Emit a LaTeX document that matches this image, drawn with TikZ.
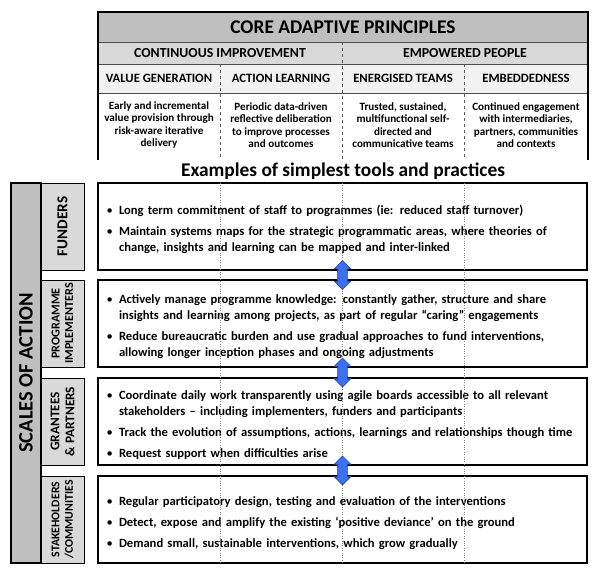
\documentclass[tikz,border=0pt]{standalone}
\usepackage{fontspec}
\setmainfont{Carlito}
\usepackage{enumitem}
\usetikzlibrary{shapes.arrows,calc}
\definecolor{headgray}{HTML}{BFBFBF}
\definecolor{midgray}{HTML}{D9D9D9}
\definecolor{lightgray}{HTML}{F2F2F2}
\definecolor{arrowblue}{HTML}{3D6FF2}
\definecolor{arrowedge}{HTML}{1F3FA8}
\newcommand{\bodysize}{\fontsize{12.6}{16}\selectfont}
\begin{document}
\begin{tikzpicture}[x=1pt,y=-1pt,
		cell/.style={font=\bfseries, align=center, inner sep=0pt},
		actorbox/.style={draw=black, line width=1pt, fill=midgray, rotate=90,
			minimum width=87pt, minimum height=43pt, inner sep=0pt,
			align=center, font=\bfseries},
		toolbox/.style={draw=black, line width=1.2pt, fill=white,
			minimum width=489pt, minimum height=87pt, inner xsep=10pt,
			text width=469pt, font=\bfseries\bodysize},
		updown/.style={double arrow, shape border rotate=90, fill=arrowblue,
			draw=arrowedge, line width=0.6pt, inner sep=4.5pt,
			double arrow head extend=3.5pt, minimum height=29pt}]
		
		\useasboundingbox (0,0) rectangle (600,576);
		
		% Principles table
		\fill[headgray] (98,12) rectangle (588,42);
		\fill[midgray] (98,42) rectangle (588,64);
		\fill[lightgray] (98,64) rectangle (588,93);
		\draw[gray!70!black, dashed] (342,42) -- (342,160);
		\draw[gray!70!black, dashed] (220,64) -- (220,160);
		\draw[gray!70!black, dashed] (464,64) -- (464,160);
		\draw[gray!60!black] (98,42) -- (588,42) (98,64) -- (588,64) (98,93) -- (588,93);
		\draw[line width=1.2pt] (98,160) |- (588,12) -- (588,160);
		
		\node[cell, font=\bfseries\fontsize{19.4}{21}\selectfont] (core) at (343,27) {CORE ADAPTIVE PRINCIPLES};
		\node[cell, font=\bfseries\fontsize{13.8}{15}\selectfont] (ci) at (220,53) {CONTINUOUS IMPROVEMENT};
		\node[cell, font=\bfseries\fontsize{13.8}{15}\selectfont] (ep) at (465,53) {EMPOWERED PEOPLE};
		\node[cell, font=\bfseries\fontsize{12.7}{14}\selectfont] (vg) at (159,78.5) {VALUE GENERATION};
		\node[cell, font=\bfseries\fontsize{12.7}{14}\selectfont] (al) at (281,78.5) {ACTION LEARNING};
		\node[cell, font=\bfseries\fontsize{12.7}{14}\selectfont] (et) at (403,78.5) {ENERGISED TEAMS};
		\node[cell, font=\bfseries\fontsize{12.7}{14}\selectfont] (em) at (526,78.5) {EMBEDDEDNESS};
		\node[cell, font=\bfseries\fontsize{11.1}{12.3}\selectfont] (vgtext) at (159,125)
		{Early and incremental\\value provision through\\risk-aware iterative\\delivery};
		\node[cell, font=\bfseries\fontsize{11.1}{12.3}\selectfont] (altext) at (281,125)
		{Periodic data-driven\\reflective deliberation\\to improve processes\\and outcomes};
		\node[cell, font=\bfseries\fontsize{11.1}{12.3}\selectfont] (ettext) at (403,125)
		{Trusted, sustained,\\multifunctional self-\\directed and\\communicative teams};
		\node[cell, font=\bfseries\fontsize{11.1}{12.3}\selectfont] (emtext) at (526,125)
		{Continued engagement\\with intermediaries,\\partners, communities\\and contexts};
		
		% Heading of the lower part
		\node[cell, font=\bfseries\fontsize{19.4}{21}\selectfont] (examples) at (343,171.5)
		{Examples of simplest tools and practices};
		
		% Scales of action
		\node[draw=black, line width=1.2pt, fill=headgray, rotate=90, minimum width=380pt,
		minimum height=30pt, inner sep=0pt, font=\bfseries\fontsize{20.5}{22}\selectfont]
		(scales) at (26,373) {SCALES OF ACTION};
		\node[actorbox, font=\bfseries\fontsize{15.2}{16}\selectfont] (funders) at (62.5,226.5) {FUNDERS};
		\node[actorbox, font=\bfseries\fontsize{12.2}{13.5}\selectfont] (implementers) at (62.5,323.5) {PROGRAMME\\IMPLEMENTERS};
		\node[actorbox, font=\bfseries\fontsize{13.3}{15}\selectfont] (grantees) at (62.5,421.5) {GRANTEES\\\& PARTNERS};
		\node[actorbox, font=\bfseries\fontsize{11.8}{13.5}\selectfont] (stakeholders) at (62.5,519.5) {STAKEHOLDERS\\/COMMUNITIES};
		
		% Tools and practices
		\node[toolbox] (fundbox) at (342.5,226.5) {%
			\begin{itemize}[nosep, leftmargin=11pt, labelsep=6pt, itemsep=5pt]
				\item Long term commitment of staff to programmes (ie: reduced staff turnover)
				\item Maintain systems maps for the strategic programmatic areas, where theories of\\
				change, insights and learning can be mapped and inter-linked
			\end{itemize}\vspace{10pt}};
		\node[toolbox] (implbox) at (342.5,323.5) {%
			\begin{itemize}[nosep, leftmargin=11pt, labelsep=6pt, itemsep=5pt]
				\item Actively manage programme knowledge: constantly gather, structure and share\\
				insights and learning among projects, as part of regular ``caring'' engagements
				\item Reduce bureaucratic burden and use gradual approaches to fund interventions,\\
				allowing longer inception phases and ongoing adjustments
			\end{itemize}};
		\node[toolbox] (grantbox) at (342.5,421.5) {%
			\begin{itemize}[nosep, leftmargin=11pt, labelsep=6pt, itemsep=5pt]
				\item Coordinate daily work transparently using agile boards accessible to all relevant\\
				stakeholders -- including implementers, funders and participants
				\item Track the evolution of assumptions, actions, learnings and relationships though time
				\item Request support when difficulties arise
			\end{itemize}};
		\node[toolbox] (stakebox) at (342.5,519.5) {%
			\begin{itemize}[nosep, leftmargin=11pt, labelsep=6pt, itemsep=5pt]
				\item Regular participatory design, testing and evaluation of the interventions
				\item Detect, expose and amplify the existing `positive deviance' on the ground
				\item Demand small, sustainable interventions, which grow gradually
			\end{itemize}\vspace{6pt}};
		
		% Column guides
		\foreach \gx in {220,342,464}
		\draw[gray, dotted] (\gx,183) -- (\gx,563);
		
		% Links between scales
		\node[updown] (link1) at ($(fundbox.south)!0.5!(implbox.north)$) {};
		\node[updown] (link2) at ($(implbox.south)!0.5!(grantbox.north)$) {};
		\node[updown] (link3) at ($(grantbox.south)!0.5!(stakebox.north)$) {};
		
	\end{tikzpicture}
\end{document}
